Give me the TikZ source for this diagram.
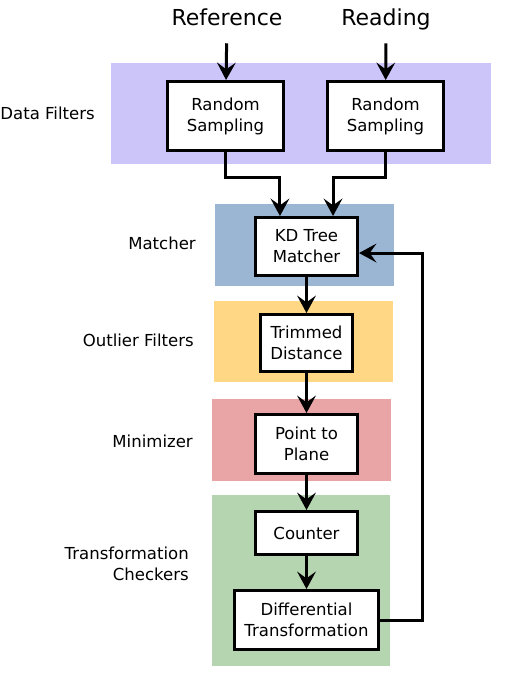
\documentclass[tikz,border=0pt]{standalone}
\usepackage{fontspec}
\setmainfont{DejaVu Sans}
\usetikzlibrary{arrows.meta}

\definecolor{DataBand}{HTML}{CCC5F9}
\definecolor{MatchBand}{HTML}{9BB6D3}
\definecolor{OutlierBand}{HTML}{FFD785}
\definecolor{MiniBand}{HTML}{E9A5A6}
\definecolor{CheckBand}{HTML}{B5D5B1}

\tikzset{
  stagebox/.style={draw, fill=white, line width=2.25pt, inner sep=0pt, align=center,
    font=\fontsize{12.4}{15.8}\selectfont},
  sidetext/.style={inner sep=0pt, anchor=east, align=right,
    font=\fontsize{12.4}{15.8}\selectfont},
  inputtext/.style={inner xsep=2pt, inner ysep=9.5pt, text height=12pt, text depth=3.5pt,
    font=\fontsize{16.5}{19}\selectfont},
  flow/.style={line width=2.25pt, -{Stealth[length=13pt,width=14pt,inset=5pt]}},
}

\begin{document}
\begin{tikzpicture}[x=0.75pt, y=-0.75pt]
 \useasboundingbox (0,0) rectangle (505,688);

 %%%%%%%%%% Stage bands %%%%%%%%%%
 \fill [color=DataBand] (111,63) rectangle (491,164);
 \fill [color=MatchBand] (215,204) rectangle (394,286);
 \fill [color=OutlierBand] (214,301) rectangle (393,382);
 \fill [color=MiniBand] (212,399) rectangle (391,481);
 \fill [color=CheckBand] (212,495) rectangle (390,666);

 %%%%%%%%%% Stage names %%%%%%%%%%
 \node [sidetext] (datalbl) at (95,113) {Data Filters};
 \node [sidetext] (matchlbl) at (196,243) {Matcher};
 \node [sidetext] (outlierlbl) at (194,340) {Outlier Filters};
 \node [sidetext] (minilbl) at (193,441) {Minimizer};
 \node [sidetext] (checklbl) at (189,564) {Transformation\\Checkers};

 %%%%%%%%%% Inputs %%%%%%%%%%
 \node [inputtext] (ref) at (227,20) {Reference};
 \node [inputtext] (read) at (386,20) {Reading};

 %%%%%%%%%% Boxes %%%%%%%%%%
 \node [stagebox, minimum width=87pt, minimum height=51.75pt] (rsref) at (225.5,116) {Random\\Sampling};
 \node [stagebox, minimum width=87pt, minimum height=51.75pt] (rsread) at (385.5,116) {Random\\Sampling};
 \node [stagebox, minimum width=76.5pt, minimum height=43.5pt] (kd) at (306.5,246.5) {KD Tree\\Matcher};
 \node [stagebox, minimum width=69pt, minimum height=42.75pt] (trim) at (306.5,343) {Trimmed\\Distance};
 \node [stagebox, minimum width=76.5pt, minimum height=44.25pt] (ptp) at (306.5,444) {Point to\\Plane};
 \node [stagebox, minimum width=76.5pt, minimum height=32.25pt] (counter) at (306.5,533) {Counter};
 \node [stagebox, minimum width=108pt, minimum height=44.25pt] (diff) at (306.5,620) {Differential\\Transformation};

 %%%%%%%%%% Connectors %%%%%%%%%%
 \draw [flow] (ref) -- (rsref);
 \draw [flow] (read) -- (rsread);
 \draw [flow] (rsref.south) -- ++(0,25) -| ([xshift=-19.9pt]kd.north);
 \draw [flow] (rsread.south) -- ++(0,25) -| ([xshift=19.9pt]kd.north);
 \draw [flow] (kd) -- (trim);
 \draw [flow] (trim) -- (ptp);
 \draw [flow] (ptp) -- (counter);
 \draw [flow] (counter) -- (diff);

 % feedback loop
 \draw [flow] (diff.east) -- ++(42,0) |- ([yshift=-4.9pt]kd.east);

\end{tikzpicture}
\end{document}
